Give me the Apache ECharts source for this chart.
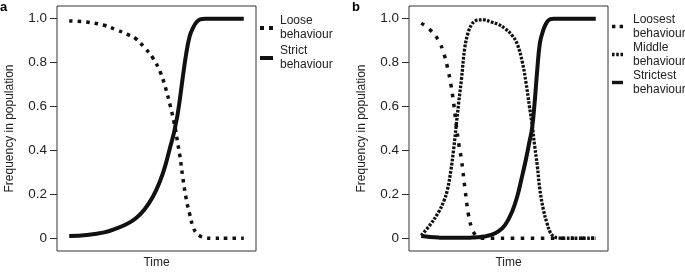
<!DOCTYPE html>
<html>
<head>
<meta charset="utf-8">
<script src="https://cdn.jsdelivr.net/npm/echarts@6/dist/echarts.min.js"></script>
<style>
html, body { margin: 0; padding: 0; background: #fff; }
#chart { width: 685px; height: 274px; }
</style>
</head>
<body>
<div id="chart"></div>
<script>
// panel a
var timeA = [0, 10, 20, 27, 33, 38, 43, 48, 52, 55, 58, 60, 61, 62, 63.5, 65, 67, 69, 71, 73, 75, 78, 82, 90, 100];
var looseA = [0.99, 0.985, 0.97, 0.95, 0.93, 0.91, 0.87, 0.82, 0.76, 0.69, 0.60, 0.53, 0.49, 0.44, 0.37, 0.28, 0.18, 0.11, 0.05, 0.022, 0.01, 0.003, 0, 0, 0];
var strictA = [0.01, 0.015, 0.027, 0.045, 0.065, 0.09, 0.13, 0.19, 0.26, 0.33, 0.42, 0.48, 0.52, 0.56, 0.64, 0.73, 0.84, 0.92, 0.96, 0.985, 0.997, 1, 1, 1, 1];

// panel b
var timeB = [0, 5, 10, 13, 15, 17, 18.5, 20, 21.5, 23, 25, 27, 29, 31, 33, 36, 40, 44, 48, 52, 55, 58, 60, 62, 63.5, 65, 66.5, 68, 70, 72, 74, 76, 78, 82, 90, 100];
var loosestB = [0.98, 0.95, 0.90, 0.84, 0.78, 0.70, 0.62, 0.52, 0.43, 0.36, 0.23, 0.11, 0.045, 0.015, 0.004, 0, 0, 0, 0, 0, 0, 0, 0, 0, 0, 0, 0, 0, 0, 0, 0, 0, 0, 0, 0, 0];
var middleB = [0.013, 0.06, 0.12, 0.17, 0.22, 0.31, 0.40, 0.51, 0.62, 0.72, 0.87, 0.94, 0.975, 0.99, 0.995, 0.995, 0.985, 0.975, 0.955, 0.925, 0.885, 0.80, 0.71, 0.60, 0.52, 0.42, 0.33, 0.22, 0.13, 0.07, 0.025, 0.008, 0.002, 0, 0, 0];
var strictestB = [0.01, 0.006, 0.003, 0.002, 0.002, 0.002, 0.002, 0.002, 0.002, 0.002, 0.002, 0.002, 0.003, 0.004, 0.005, 0.008, 0.015, 0.03, 0.06, 0.12, 0.19, 0.29, 0.36, 0.44, 0.50, 0.62, 0.77, 0.89, 0.95, 0.985, 0.998, 1, 1, 1, 1, 1];

var yTicks = [0, 0.2, 0.4, 0.6, 0.8, 1.0];

function pairs(t, v) {
	return t.map(function (x, i) { return [x, v[i]]; });
}

var ink = '#111';
var font = 'Liberation Sans';
var iconDots2 = 'path://M0,0h4v4h-4zM9,0h4v4h-4z';
var iconDots3 = 'path://M0,0h3v4h-3zM5,0h3v4h-3zM10,0h3v4h-3z';
var iconSolid = 'path://M0,0h13v4h-13z';

function xAxisFor(idx) {
	return {
		gridIndex: idx,
		type: 'value',
		min: -7,
		max: 107,
		axisLine: { show: false, onZero: false },
		axisTick: { show: false },
		axisLabel: { show: false },
		splitLine: { show: false },
		name: 'Time',
		nameLocation: 'middle',
		nameGap: 6,
		nameTextStyle: { fontFamily: font, fontSize: 12, color: '#222' }
	};
}

function yAxisFor(idx) {
	return {
		gridIndex: idx,
		type: 'value',
		min: -0.058,
		max: 1.058,
		axisLine: { show: false, onZero: false },
		axisTick: { show: true, length: 7, lineStyle: { color: '#333' }, customValues: yTicks },
		axisLabel: {
			margin: 10,
			fontFamily: font,
			fontSize: 13.5,
			color: '#222',
			customValues: yTicks,
			formatter: function (v) { return v === 0 ? '0' : v.toFixed(1); }
		},
		splitLine: { show: false },
		name: 'Frequency in population',
		nameLocation: 'middle',
		nameGap: 41,
		nameTextStyle: { fontFamily: font, fontSize: 12, color: '#222' }
	};
}

function lineSeries(name, idx, data, width, dash) {
	return {
		name: name,
		type: 'line',
		xAxisIndex: idx,
		yAxisIndex: idx,
		data: data,
		color: ink,
		showSymbol: false,
		symbol: 'none',
		smooth: 0.4,
		silent: true,
		lineStyle: { color: ink, width: width, type: dash || 'solid', cap: 'butt' }
	};
}

var chart = echarts.init(document.getElementById('chart'));
var option = {
	animation: false,
	backgroundColor: '#fff',
	title: [
		{ text: 'a', left: 0, top: 1, padding: 0, textStyle: { fontFamily: font, fontSize: 13, fontWeight: 'bold', color: '#000' } },
		{ text: 'b', left: 352, top: 1, padding: 0, textStyle: { fontFamily: font, fontSize: 13, fontWeight: 'bold', color: '#000' } }
	],
	grid: [
		{ left: 57, top: 6, width: 199, height: 250, show: true, borderColor: '#333', borderWidth: 1, backgroundColor: 'transparent' },
		{ left: 409, top: 6, width: 199, height: 250, show: true, borderColor: '#333', borderWidth: 1, backgroundColor: 'transparent' }
	],
	xAxis: [xAxisFor(0), xAxisFor(1)],
	yAxis: [yAxisFor(0), yAxisFor(1)],
	legend: [
		{
			orient: 'vertical',
			left: 260,
			top: 14,
			padding: 0,
			itemWidth: 13,
			itemHeight: 4,
			itemGap: 2,
			selectedMode: false,
			itemStyle: { borderWidth: 0 },
			textStyle: { fontFamily: font, fontSize: 12, color: '#222', lineHeight: 14, padding: [0, 0, 0, 2] },
			data: [
				{ name: 'Loose\nbehaviour', icon: iconDots2 },
				{ name: 'Strict\nbehaviour', icon: iconSolid }
			]
		},
		{
			orient: 'vertical',
			left: 612,
			top: 13,
			padding: 0,
			itemWidth: 11,
			itemHeight: 3.4,
			itemGap: 1,
			selectedMode: false,
			itemStyle: { borderWidth: 0 },
			textStyle: { fontFamily: font, fontSize: 12, color: '#222', lineHeight: 13.5, padding: [0, 0, 0, 5] },
			data: [
				{ name: 'Loosest\nbehaviour', icon: iconDots2 },
				{ name: 'Middle\nbehaviour', icon: iconDots3 },
				{ name: 'Strictest\nbehaviour', icon: iconSolid }
			]
		}
	],
	series: [
		lineSeries('Loose\nbehaviour', 0, pairs(timeA, looseA), 3.5, [3.5, 5]),
		lineSeries('Strict\nbehaviour', 0, pairs(timeA, strictA), 4),
		lineSeries('Loosest\nbehaviour', 1, pairs(timeB, loosestB), 3.5, [3.5, 6.5]),
		lineSeries('Middle\nbehaviour', 1, pairs(timeB, middleB), 3.3, [2.7, 1.4]),
		lineSeries('Strictest\nbehaviour', 1, pairs(timeB, strictestB), 4)
	]
};
chart.setOption(option);
</script>
</body>
</html>
